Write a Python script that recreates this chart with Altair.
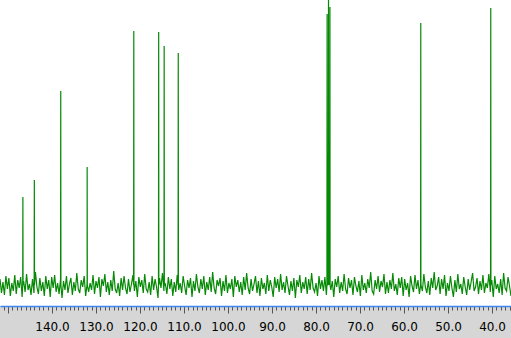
import altair as alt
import numpy as np
import pandas as pd

# x-range of the spectrum (ppm), left edge -> right edge
PPM_LEFT = 151.8
PPM_RIGHT = 35.7

# baseline noise (intensity units), read left to right
noise_part1 = [
    6,-8,3,-10,9,-4,7,-11,2,-6,10,-9,5,-3,8,-12,
    4,-7,11,-5,1,-10,6,-8,13,-2,-9,7,-6,3,-11,9,
    -4,5,-12,8,-3,10,-7,2,-9,6,-13,4,-5,9,-8,1,
    7,-10,3,-6,12,-4,-8,5,-2,9,-11,6,-7,2,-5,10,
    -9,4,-3,8,-12,6,-1,11,-7,3,-10,5,-6,14,-4,-8,
    2,-11,7,-5,9,-3,-9,6,-7,1,10,-6,4,-12,8,-2,
    5,-8,11,-4,-7,3,-10,9,-5,6,-2,-13,7,-3,12,-6,
    1,-9,8,-4,6,-11,3,-7,10,-5,2,-8,9,-1,-10,5,
    -3,7,-12,4,-6,11,-2,-8,6,-4,9,-10,3,-5,8,-7,
    13,-3,-9,5,-1,7,-11,4,-6,10,-8,2,-4,6,-12,9,
    -2,5,-7,3,-10,8,-5,12,-3,-9,6,-6,1,9,-8,4,
    -11,7,-4,2,-9,10,-6,5,-2,-12,8,-3,6,-7,11,-5,
    3,-8,9,-1,-10,4,-6,7,-13,5,-2,10,-8,3,-4,8,
    -9,6,-5,12,-3,-7,2,-11,9,-4,5,-6,8,-10,1,7,
    -5,4,-12,6,-2,9,-8,3,-6,11,-4,-9,7,-3,5,-10,
    8,-1,-7,4,-11,10,-5,2,-8,6,-3,13,-6,-9,5,-4,
]
noise_part2 = [
    9,-7,4,-2,11,-9,3,-8,5,-4,12,-6,1,-10,7,
    -3,8,-11,6,-5,2,-12,9,-1,-7,10,-4,5,-9,3,-6,
    11,-2,-8,4,-10,7,-3,13,-5,-1,8,-9,6,-4,10,-11,
    2,-6,9,-3,-12,5,-7,11,-4,1,-9,8,-2,-10,6,-5,
    3,12,-6,-2,7,-9,4,-5,10,-8,2,-3,11,-7,5,-12,
    9,-4,1,-8,6,-10,12,-3,-6,8,-1,-11,
]

# peaks: chemical shift (ppm) and height (intensity units)
peak_ppm = [146.6, 144.0, 138.0, 132.0, 121.4, 115.75, 114.5, 111.3,
            77.48, 77.16, 76.84, 56.2, 40.3]
peak_height = [88, 105, 194, 118, 254, 253, 239, 232,
               271, 320, 278, 262, 277]

# tick positions
minor_ticks = list(range(36, 152))

noise = noise_part1 + noise_part2
noise_ppm = np.linspace(PPM_LEFT, PPM_RIGHT, len(noise))
rows = [{"ppm": float(p), "i": float(v)} for p, v in zip(noise_ppm, noise)]
for p, h in zip(peak_ppm, peak_height):
    rows.append({"ppm": p + 0.04, "i": 0.0})
    rows.append({"ppm": p, "i": float(h)})
    rows.append({"ppm": p - 0.04, "i": 0.0})
df = pd.DataFrame(rows).sort_values("ppm")

chart = alt.Chart(df).mark_line(
    color="#068a06", strokeWidth=1.2, clip=True, interpolate="linear"
).encode(
    x=alt.X(
        "ppm:Q",
        scale=alt.Scale(domain=[PPM_RIGHT, PPM_LEFT], reverse=True, nice=False, zero=False),
        axis=alt.Axis(
            values=minor_ticks,
            title=None,
            grid=False,
            domainColor="#3d86f2",
            domainWidth=1.5,
            tickColor="#555555",
            tickWidth=1,
            tickSize={"condition": {"test": "datum.value % 10 === 0", "value": 7}, "value": 4},
            labelExpr="(datum.value % 10 === 0 && datum.value <= 140) ? format(datum.value, '.1f') : ''",
            labelOverlap=False,
            labelFont="DejaVu Sans",
            labelFontSize=12,
            labelColor="#000000",
            labelPadding=8,
            labelFlush=False,
            labelBound=False,
        ),
    ),
    y=alt.Y("i:Q", scale=alt.Scale(domain=[-21, 285], nice=False, zero=False), axis=None),
    order=alt.Order("ppm:Q"),
).properties(
    width=511,
    height=306,
    autosize=alt.AutoSizeParams(type="none"),
    padding={"left": 0, "top": 0, "right": 0, "bottom": 32},
    background="#d6d6d6",
).configure_view(
    fill="#ffffff",
    stroke=None,
)

chart.save("out.html", embed_options={"renderer": "svg", "actions": False})
